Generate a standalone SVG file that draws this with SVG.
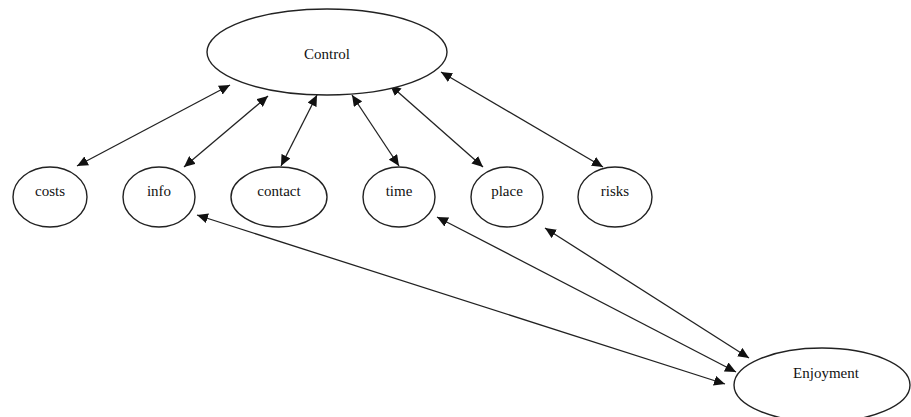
<svg xmlns="http://www.w3.org/2000/svg" width="911" height="417" viewBox="0 0 911 417">
<style>
.node ellipse{fill:#fff;stroke:#222;stroke-width:1.4}
.node text{font-family:"Liberation Serif","Times New Roman",serif;font-size:15px;fill:#111;text-anchor:middle}
.edge{stroke:#222;stroke-width:1.3;fill:none;marker-start:url(#ah);marker-end:url(#ah)}
</style>
<defs>
<marker id="ah" markerUnits="userSpaceOnUse" markerWidth="12" markerHeight="10" refX="11" refY="5" orient="auto-start-reverse">
<path d="M0,0 L11,5 L0,10 Z" fill="#111"/>
</marker>
</defs>
<rect width="911" height="417" fill="#fff"/>
<g id="connectors">
<line class="edge" x1="230" y1="85" x2="77" y2="166"/>
<line class="edge" x1="268" y1="96" x2="184" y2="167"/>
<line class="edge" x1="317" y1="95" x2="281" y2="166"/>
<line class="edge" x1="352" y1="95" x2="399" y2="166"/>
<line class="edge" x1="390" y1="85" x2="483" y2="167"/>
<line class="edge" x1="441" y1="72" x2="603" y2="167"/>
<line class="edge" x1="197" y1="215" x2="725" y2="384"/>
<line class="edge" x1="437" y1="217" x2="736" y2="372"/>
<line class="edge" x1="545" y1="228" x2="749" y2="358"/>
</g>
<g id="control" class="node"><ellipse cx="327" cy="52" rx="120" ry="43"/><text x="327" y="59">Control</text></g>
<g id="costs" class="node"><ellipse cx="50" cy="197" rx="37" ry="30"/><text x="50" y="196">costs</text></g>
<g id="info" class="node"><ellipse cx="159" cy="197" rx="36" ry="30"/><text x="159" y="196">info</text></g>
<g id="contact" class="node"><ellipse cx="279" cy="197" rx="48" ry="30"/><text x="279" y="196">contact</text></g>
<g id="time" class="node"><ellipse cx="399" cy="197" rx="36" ry="30"/><text x="399" y="196">time</text></g>
<g id="place" class="node"><ellipse cx="507" cy="197" rx="36" ry="30"/><text x="507" y="196">place</text></g>
<g id="risks" class="node"><ellipse cx="615" cy="197" rx="37" ry="30"/><text x="615" y="196">risks</text></g>
<g id="enjoyment" class="node"><ellipse cx="822" cy="385" rx="88" ry="37"/><text x="826" y="378">Enjoyment</text></g>
</svg>
